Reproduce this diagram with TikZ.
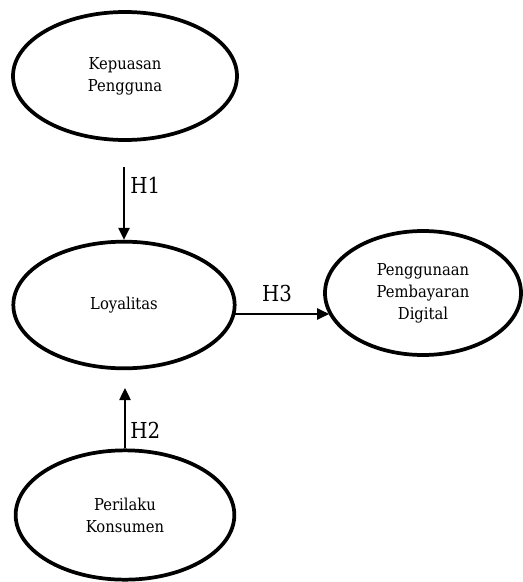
\documentclass[tikz,border=0pt]{standalone}
\usepackage{fontspec}
\setmainfont{DejaVu Serif Condensed}
\usetikzlibrary{shapes.geometric,arrows.meta}
\begin{document}
\begin{tikzpicture}[x=0.75pt,y=-0.75pt,
  var/.style={draw,ellipse,line width=2.8pt,inner sep=0pt,align=center,
    font=\fontsize{12.3pt}{16.5pt}\selectfont},
  arr/.style={line width=1pt,-{Triangle[length=9pt,width=8.5pt]}},
  hyp/.style={font=\fontsize{16.5pt}{18pt}\selectfont,inner sep=0pt}]
\useasboundingbox (0,0) rectangle (523,582);
\node[var,minimum width=168pt,minimum height=96pt] (kep) at (125,76) {Kepuasan\\Pengguna};
\node[var,minimum width=166pt,minimum height=95pt] (loy) at (124,305) {Loyalitas};
\node[var,minimum width=147pt,minimum height=93pt] (pen) at (423,293) {Penggunaan\\Pembayaran\\Digital};
\node[var,minimum width=164pt,minimum height=97pt] (per) at (125,515) {Perilaku\\Konsumen};
\coordinate (h1s) at (124,167);
\coordinate (h2e) at (125,388);
\coordinate (h3s) at (234,314);
\draw[arr] (h1s) -- (loy.north);
\draw[arr] (per.north) -- (h2e);
\draw[arr] (h3s) -- ([xshift=4.5pt]h3s -| pen.west);
\node[hyp,anchor=west] (l1) at (130,185) {H1};
\node[hyp,anchor=west] (l2) at (130,430) {H2};
\node[hyp] (l3) at (277,293) {H3};
\end{tikzpicture}
\end{document}
